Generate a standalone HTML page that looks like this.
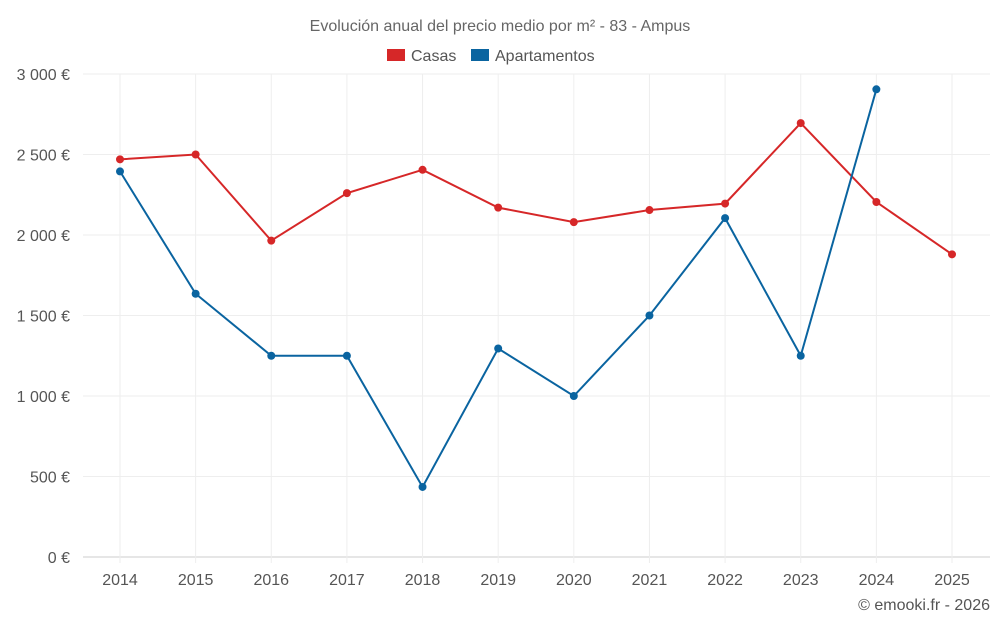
<!DOCTYPE html>
<html><head><meta charset="utf-8">
<style>
body{margin:0;background:#fff;font-family:"Liberation Sans",sans-serif;}
svg text{font-family:"Liberation Sans",sans-serif;}
</style></head>
<body>
<svg id="chart" width="1000" height="625">
<text x="500" y="31" text-anchor="middle" font-size="16" fill="#666">Evolución anual del precio medio por m² - 83 - Ampus</text>
<g>
<g><rect x="387" y="49" width="18" height="12" fill="#d62728"/><text x="411" y="61" font-size="16" fill="#555">Casas</text></g>
<g><rect x="471" y="49" width="18" height="12" fill="#0a64a0"/><text x="495" y="61" font-size="16" fill="#555">Apartamentos</text></g>
</g>
<g id="grid"></g><g id="axes"></g><g id="series"></g>
<text x="990" y="610" text-anchor="end" font-size="16" fill="#555">© emooki.fr - 2026</text>
</svg>
<script>
const years=[2014,2015,2016,2017,2018,2019,2020,2021,2022,2023,2024,2025];
const casas=[2470,2500,1965,2260,2405,2170,2080,2155,2195,2695,2205,1880];
const apartamentos=[2395,1635,1250,1250,435,1295,1000,1500,2105,1250,2905,null];
const yTicks=[0,500,1000,1500,2000,2500,3000];
const yLabels=["0 €","500 €","1 000 €","1 500 €","2 000 €","2 500 €","3 000 €"];
const NS="http://www.w3.org/2000/svg";
const L=83,R=990,T=74,B=557;
const x=i=>120+i*(952-120)/(years.length-1);
const y=v=>B-(v/3000)*(B-T);
function mk(tag,attrs,parent){const e=document.createElementNS(NS,tag);for(const k in attrs)e.setAttribute(k,attrs[k]);parent.appendChild(e);return e;}
const grid=document.getElementById('grid'),axes=document.getElementById('axes'),ser=document.getElementById('series');
yTicks.forEach((t,i)=>{
 const ln=mk('line',{x1:L,x2:R,y1:y(t),y2:y(t),stroke:i==0?'#ccc':'#eee','stroke-width':1},grid);
 
 
 const tx=mk('text',{x:70,y:y(t)+6,'text-anchor':'end','font-size':16,fill:'#555'},axes);
 tx.textContent=yLabels[i];
 
 
});
years.forEach((yr,i)=>{
 const ln=mk('line',{x1:x(i),x2:x(i),y1:T,y2:B+6,stroke:'#eee','stroke-width':1},grid);
 
 
 const tx=mk('text',{x:x(i),y:585,'text-anchor':'middle','font-size':16,fill:'#555'},axes);
 tx.textContent=yr;
 
 
});
function draw(data,color,name){
 let pts=[];data.forEach((v,i)=>{if(v!=null)pts.push(x(i)+','+y(v));});
 const pl=mk('polyline',{points:pts.join(' '),fill:'none',stroke:color,'stroke-width':2},ser);
 
 
 data.forEach((v,i)=>{if(v==null)return;
  const c=mk('circle',{cx:x(i),cy:y(v),r:4,fill:color},ser);
  
  
 });
}
draw(casas,'#d62728','casas');
draw(apartamentos,'#0a64a0','apartamentos');
</script>
</body></html>
